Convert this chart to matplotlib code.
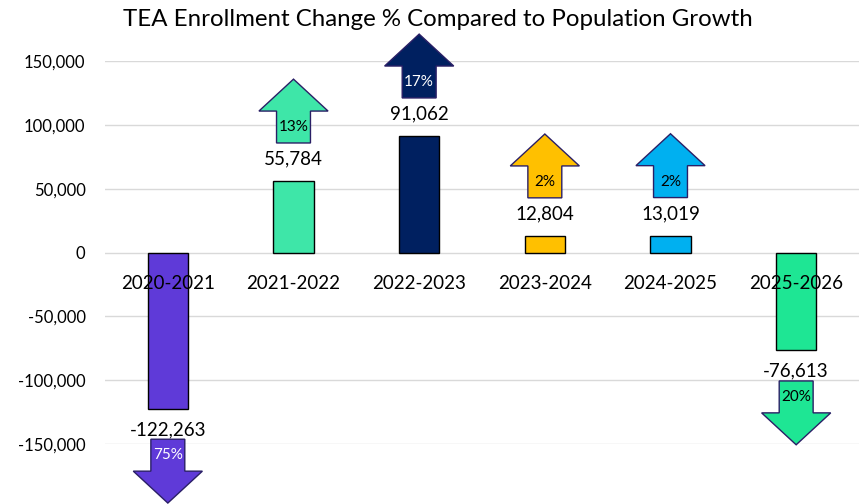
import numpy as np
import matplotlib
matplotlib.use("Agg")
import matplotlib.pyplot as plt
from matplotlib.patches import Polygon
from matplotlib.ticker import FuncFormatter

plt.rcParams['font.family'] = ['Lato', 'DejaVu Sans']

# data
years = ['2020-2021', '2021-2022', '2022-2023', '2023-2024', '2024-2025', '2025-2026']
change = [-122263, 55784, 91062, 12804, 13019, -76613]
pct = ['75%', '13%', '17%', '2%', '2%', '20%']

colors = ['#5f3ad8', '#3ee6a8', '#002060', '#ffc000', '#00b0f0', '#1ee694']
pct_colors = ['white', 'black', 'white', 'black', 'black', 'black']

fig = plt.figure(figsize=(8.59, 5.04), dpi=100)
ax = fig.add_axes([105 / 859, 1 - 444 / 504, 754 / 859, 383 / 504])

x = np.arange(len(years))
ax.bar(x, change, width=0.32, color=colors, edgecolor='black', linewidth=1, zorder=2)

ax.set_xlim(-0.5, len(years) - 0.5)
ax.set_ylim(-150000, 150000)
ax.set_yticks(np.arange(-150000, 150001, 50000))
ax.yaxis.set_major_formatter(FuncFormatter(lambda v, p: f'{int(v):,}'))
ax.tick_params(axis='y', length=0, pad=14, labelsize=12)
ax.set_xticks([])
ax.grid(axis='y', color='#d9d9d9', linewidth=1, zorder=0)
for s in ax.spines.values():
    s.set_visible(False)

# category labels next to the zero line
for i, yr in enumerate(years):
    ax.annotate(yr, (i, 0), xytext=(0, -22), textcoords='offset points',
                ha='center', va='center', fontsize=13.5, zorder=4)

# value labels
for i, v in enumerate(change):
    off = 16 if v > 0 else -15
    ax.annotate(f'{v:,}', (i, v), xytext=(0, off), textcoords='offset points',
                ha='center', va='center', fontsize=13.5, zorder=4)

# arrows with percent
shaft_w, head_w = 0.27, 0.55
shaft_h, head_h = 25000, 25000
for i, v in enumerate(change):
    if v > 0:
        b = v + 30000
        d = 1
    else:
        b = v - 24000
        d = -1
    pts = [(i - shaft_w / 2, b), (i + shaft_w / 2, b),
           (i + shaft_w / 2, b + d * shaft_h), (i + head_w / 2, b + d * shaft_h),
           (i, b + d * (shaft_h + head_h)), (i - head_w / 2, b + d * shaft_h),
           (i - shaft_w / 2, b + d * shaft_h)]
    ax.add_patch(Polygon(pts, closed=True, facecolor=colors[i], edgecolor='#2a1f66',
                         linewidth=1, clip_on=False, zorder=5))
    ax.text(i, b + d * shaft_h / 2, pct[i], ha='center', va='center',
            fontsize=11, color=pct_colors[i], zorder=6, clip_on=False)

fig.text(0.51, 0.962, 'TEA Enrollment Change % Compared to Population Growth',
         ha='center', va='center', fontsize=17.3)

fig.savefig('out.png', dpi=100)
